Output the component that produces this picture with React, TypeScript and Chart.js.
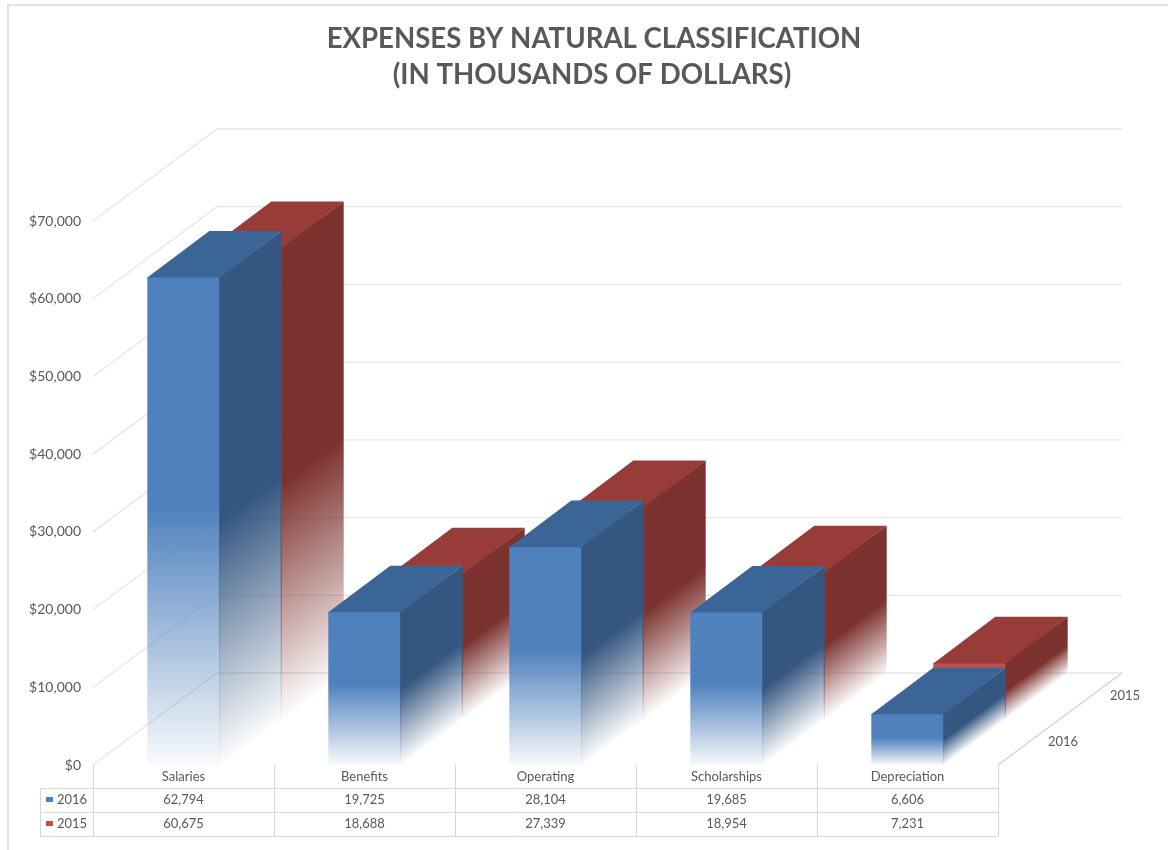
import React, { useEffect, useRef } from 'react';
import { Chart, registerables } from 'chart.js';

Chart.register(...registerables);

// ---------- data ----------
const categories = ['Salaries', 'Benefits', 'Operating', 'Scholarships', 'Depreciation'];
const seriesNames = ['2016', '2015'];
const values2016 = [62794, 19725, 28104, 19685, 6606];
const values2015 = [60675, 18688, 27339, 18954, 7231];
const yTickMin = 0;
const yTickMax = 70000;
const yTickStep = 10000;
const titleLines = ['EXPENSES BY NATURAL CLASSIFICATION', '(IN THOUSANDS OF DOLLARS)'];

// ---------- styles ----------
const FONT = 'Lato, "Open Sans", "DejaVu Sans", sans-serif';
const TEXT = '#595959';
const GRID = '#e6e6e6';
const TABLE_LINE = '#d6d6d6';
const DEPTH_X = 62;
const DEPTH_Y = 46;
const seriesStyles = [
  { front: [79, 129, 189], top: '#3b6597', side: [52, 86, 128], key: '#4f81bd' },
  { front: [192, 80, 77], top: '#973c38', side: [124, 50, 47], key: '#c0504d' },
];

const rgba = (c: number[], a: number) => `rgba(${c[0]},${c[1]},${c[2]},${a})`;

function silhouette(ctx: CanvasRenderingContext2D, x0: number, x1: number, yTop: number, yBase: number, dx: number, dy: number) {
  ctx.moveTo(x0, yBase);
  ctx.lineTo(x0, yTop);
  ctx.lineTo(x0 + dx, yTop - dy);
  ctx.lineTo(x1 + dx, yTop - dy);
  ctx.lineTo(x1 + dx, yBase - dy);
  ctx.lineTo(x1, yBase);
  ctx.closePath();
}

function drawBox(ctx: CanvasRenderingContext2D, x0: number, x1: number, yTop: number, yBase: number, dx: number, dy: number, st: any) {
  const h = yBase - yTop;
  if (h <= 0) return;
  // front face
  const gf = ctx.createLinearGradient(0, yTop, 0, yBase);
  gf.addColorStop(0, rgba(st.front, 1));
  gf.addColorStop(0.47, rgba(st.front, 1));
  gf.addColorStop(1, rgba(st.front, 0.04));
  ctx.fillStyle = gf;
  ctx.fillRect(x0, yTop, x1 - x0, h);
  // right side face (fade follows the slanted bottom edge)
  const len = Math.hypot(dx, dy);
  const ux = dy / len;
  const uy = dx / len;
  const proj = h * uy;
  const gs = ctx.createLinearGradient(x1 - ux * proj, yBase - uy * proj, x1, yBase);
  gs.addColorStop(0, rgba(st.side, 1));
  gs.addColorStop(0.5, rgba(st.side, 1));
  gs.addColorStop(1, rgba(st.side, 0.02));
  ctx.fillStyle = gs;
  ctx.beginPath();
  ctx.moveTo(x1 - 0.6, yTop);
  ctx.lineTo(x1 + dx, yTop - dy);
  ctx.lineTo(x1 + dx, yBase - dy);
  ctx.lineTo(x1 - 0.6, yBase);
  ctx.closePath();
  ctx.fill();
  // top face
  ctx.fillStyle = st.top;
  ctx.beginPath();
  ctx.moveTo(x0, yTop + 0.6);
  ctx.lineTo(x1, yTop + 0.6);
  ctx.lineTo(x1 + dx, yTop - dy);
  ctx.lineTo(x0 + dx, yTop - dy);
  ctx.closePath();
  ctx.fill();
}

const fmt = (v: number) => v.toLocaleString('en-US');

function boxGeom(chart: any, di: number) {
  const meta = chart.getDatasetMeta(di);
  const ox = DEPTH_X * di;
  const oy = DEPTH_Y * di;
  return meta.data.map((bar: any) => {
    const p = bar.getProps(['x', 'y', 'base', 'width'], true);
    return { x0: p.x - p.width / 2 + ox, x1: p.x + p.width / 2 + ox, yTop: p.y - oy, yBase: p.base - oy };
  });
}

const threeDPlugin = {
  id: 'threeD',
  beforeDatasetsDraw(chart: any) {
    const { ctx, chartArea, scales } = chart;
    const y = scales.y;
    const { left, right, bottom } = chartArea;
    const tdx = DEPTH_X * 2;
    const tdy = DEPTH_Y * 2;
    ctx.save();
    // outer border
    ctx.strokeStyle = '#d9d9d9';
    ctx.lineWidth = 1.5;
    ctx.beginPath();
    ctx.moveTo(8, 850);
    ctx.lineTo(8, 5);
    ctx.lineTo(1168, 5);
    ctx.stroke();
    // side wall + back wall gridlines
    ctx.strokeStyle = GRID;
    ctx.lineWidth = 1.3;
    y.ticks.forEach((t: any) => {
      const py = y.getPixelForValue(t.value);
      ctx.beginPath();
      ctx.moveTo(left, py);
      ctx.lineTo(left + tdx, py - tdy);
      ctx.lineTo(right + tdx, py - tdy);
      ctx.stroke();
    });
    // floor right edge (depth axis)
    ctx.strokeStyle = '#d0d0d0';
    ctx.beginPath();
    ctx.moveTo(right, bottom);
    ctx.lineTo(right + tdx, bottom - tdy);
    ctx.stroke();
    ctx.restore();
  },
  afterDatasetsDraw(chart: any) {
    const { ctx, width, height } = chart;
    const n = chart.data.datasets.length;
    for (let di = n - 1; di >= 0; di--) {
      ctx.save();
      // hide the parts of back rows that the rows in front cover
      if (di > 0) {
        ctx.beginPath();
        ctx.rect(0, 0, width, height);
        for (let fi = 0; fi < di; fi++) {
          boxGeom(chart, fi).forEach((g: any) =>
            silhouette(ctx, g.x0 + 1.2, g.x1 - 1.2, g.yTop + 1.2, g.yBase, DEPTH_X, DEPTH_Y)
          );
        }
        ctx.clip('evenodd');
      }
      boxGeom(chart, di).forEach((g: any) => drawBox(ctx, g.x0, g.x1, g.yTop, g.yBase, DEPTH_X, DEPTH_Y, seriesStyles[di]));
      ctx.restore();
    }
  },
  afterDraw(chart: any) {
    const { ctx, chartArea, scales } = chart;
    const x = scales.x;
    const { left, right, bottom } = chartArea;
    ctx.save();
    // title
    ctx.fillStyle = TEXT;
    ctx.font = `bold 27.6px ${FONT}`;
    ctx.textAlign = 'center';
    ctx.textBaseline = 'alphabetic';
    ctx.fillText(titleLines[0], 594, 48);
    ctx.fillText(titleLines[1], 592, 84);

    // data table
    const catW = (right - left) / categories.length;
    const rowH = 24;
    const headTop = bottom;
    const r1 = bottom + 23;
    const tableBottom = r1 + rowH * 2;
    const tableLeft = 40;
    ctx.strokeStyle = TABLE_LINE;
    ctx.lineWidth = 1;
    ctx.beginPath();
    for (let k = 0; k <= categories.length; k++) {
      const lx = Math.round(left + k * catW) + 0.5;
      ctx.moveTo(lx, headTop);
      ctx.lineTo(lx, tableBottom);
    }
    for (let r = 0; r <= 2; r++) {
      const ly = Math.round(r1 + r * rowH) + 0.5;
      ctx.moveTo(tableLeft, ly);
      ctx.lineTo(Math.round(right) + 0.5, ly);
    }
    ctx.moveTo(tableLeft + 0.5, r1);
    ctx.lineTo(tableLeft + 0.5, tableBottom);
    ctx.stroke();

    ctx.fillStyle = TEXT;
    ctx.font = `13px ${FONT}`;
    ctx.textAlign = 'center';
    ctx.textBaseline = 'middle';
    const rows = [values2016, values2015];
    categories.forEach((c, i) => {
      const cx = x.getPixelForValue(i);
      ctx.fillText(c, cx, headTop + 12);
      rows.forEach((vals, r) => {
        ctx.fillText(fmt(vals[i]), cx, r1 + r * rowH + 12);
      });
    });
    seriesNames.forEach((s, r) => {
      const cy = r1 + r * rowH + 12;
      ctx.fillStyle = seriesStyles[r].key;
      ctx.fillRect(46, cy - 3, 7, 5);
      ctx.fillStyle = TEXT;
      ctx.textAlign = 'left';
      ctx.fillText(s, 57, cy);
    });

    // depth axis labels
    ctx.textAlign = 'center';
    seriesNames.forEach((s, r) => {
      ctx.fillText(s, right + DEPTH_X / 2 + DEPTH_X * r + 34, bottom - DEPTH_Y / 2 - DEPTH_Y * r);
    });
    ctx.restore();
  },
};

export default function App() {
  const ref = useRef<HTMLCanvasElement | null>(null);
  useEffect(() => {
    if (!ref.current) return;
    const chart = new Chart(ref.current, {
      type: 'bar',
      data: {
        labels: categories,
        datasets: [
          { label: seriesNames[0], data: values2016, backgroundColor: 'rgba(0,0,0,0)', grouped: false, barPercentage: 0.4, categoryPercentage: 1 } as any,
          { label: seriesNames[1], data: values2015, backgroundColor: 'rgba(0,0,0,0)', grouped: false, barPercentage: 0.4, categoryPercentage: 1 } as any,
        ],
      },
      options: {
        responsive: false,
        animation: false,
        events: [],
        layout: { padding: { left: 8, right: 170, top: 221, bottom: 85 } },
        plugins: { legend: { display: false }, tooltip: { enabled: false }, title: { display: false } },
        scales: {
          x: { display: false, offset: true },
          y: {
            min: yTickMin,
            max: yTickMax,
            grid: { display: false, drawTicks: false },
            border: { display: false },
            ticks: {
              stepSize: yTickStep,
              padding: 12,
              color: TEXT,
              font: { family: FONT, size: 14 },
              callback: (v: any) => '$' + Number(v).toLocaleString('en-US'),
            },
            afterFit: (s: any) => { s.width = 85; },
          },
        },
      },
      plugins: [threeDPlugin],
    });
    return () => chart.destroy();
  }, []);
  return (
    <div style={{ position: 'absolute', left: 0, top: 0, width: 1168, height: 850, background: '#fff' }}>
      <canvas ref={ref} width={1168} height={850} style={{ width: 1168, height: 850, display: 'block' }} />
    </div>
  );
}
